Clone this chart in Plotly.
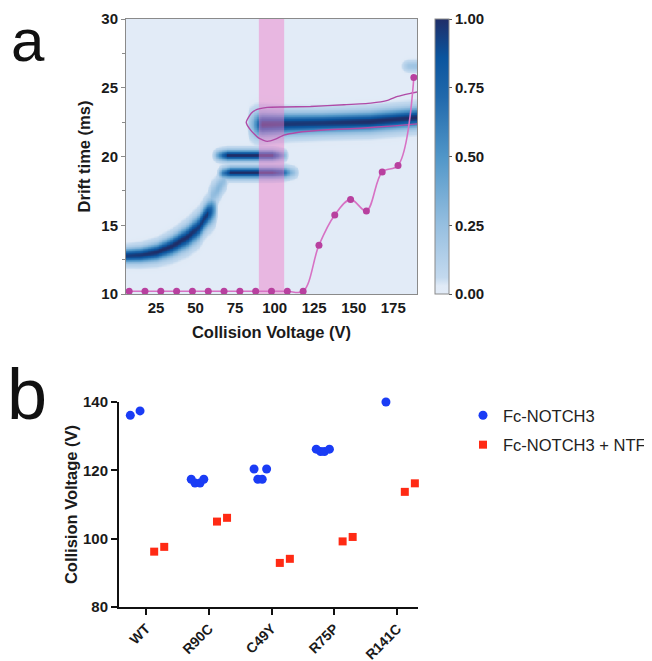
import numpy as np
import plotly.graph_objects as go

# ---------------- Panel a data ----------------
# ridge knots: collision voltage, drift centre, intensity, width
ridgeA_v = [6, 15, 25, 35, 45, 52, 57, 60, 64]
ridgeA_d = [12.8, 12.85, 13.05, 13.5, 14.2, 14.9, 15.8, 16.05, 16.3]
ridgeA_a = [0.95, 0.97, 1.0, 1.0, 1.0, 0.95, 0.97, 0.75, 0.0]
ridgeA_w = [0.3, 0.32, 0.36, 0.42, 0.48, 0.52, 0.52, 0.55, 0.55]

ridgeT_v = [56, 60, 64, 68, 71]
ridgeT_d = [16.6, 17.1, 17.7, 18.3, 18.6]
ridgeT_a = [0.0, 0.25, 0.3, 0.25, 0.0]
ridgeT_w = [0.55, 0.55, 0.5, 0.45, 0.45]

ridgeB_v = [63, 67, 72, 98, 104, 110, 116]
ridgeB_d = [18.75, 18.8, 18.85, 18.85, 18.85, 18.85, 18.85]
ridgeB_a = [0.0, 0.6, 1.0, 1.0, 0.85, 0.35, 0.0]
ridgeB_w = [0.24, 0.24, 0.24, 0.24, 0.24, 0.24, 0.24]

ridgeC_v = [60, 64, 70, 98, 103, 109]
ridgeC_d = [20.1, 20.1, 20.1, 20.1, 20.1, 20.1]
ridgeC_a = [0.0, 0.45, 1.0, 1.0, 0.6, 0.0]
ridgeC_w = [0.23, 0.23, 0.23, 0.23, 0.23, 0.23]

ridgeD_v = [82, 86, 92, 110, 130, 160, 175, 190]
ridgeD_d = [22.4, 22.35, 22.35, 22.4, 22.45, 22.55, 22.7, 22.85]
ridgeD_a = [0.0, 0.35, 1.0, 0.97, 0.97, 1.0, 1.0, 1.0]
ridgeD_w = [0.65, 0.6, 0.5, 0.44, 0.42, 0.42, 0.42, 0.42]

ridgeE_v = [179, 184, 190]
ridgeE_d = [26.6, 26.6, 26.6]
ridgeE_a = [0.0, 0.2, 0.22]
ridgeE_w = [0.25, 0.25, 0.25]

ridges = [
    (ridgeA_v, ridgeA_d, ridgeA_a, ridgeA_w),
    (ridgeT_v, ridgeT_d, ridgeT_a, ridgeT_w),
    (ridgeB_v, ridgeB_d, ridgeB_a, ridgeB_w),
    (ridgeC_v, ridgeC_d, ridgeC_a, ridgeC_w),
    (ridgeD_v, ridgeD_d, ridgeD_a, ridgeD_w),
    (ridgeE_v, ridgeE_d, ridgeE_a, ridgeE_w),
]

# contour outline around the high-voltage conformer
contour_v = [190.4, 186.2, 177.7, 171.4, 160.8, 143.9, 122.7, 105.8, 95.3, 88.9, 85.2,
             82.0, 84.7, 90.0, 95.3, 100.5, 105.8, 114.3, 133.3, 154.5, 175.6, 190.4]
contour_d = [24.7, 24.6, 24.37, 24.08, 23.88, 23.76, 23.64, 23.6, 23.57, 23.42, 23.15,
             22.5, 21.94, 21.33, 21.1, 21.26, 21.55, 21.75, 21.94, 22.06, 22.23, 22.38]

# unfolding curve (pink)
unfold_v = [8, 18, 28, 38, 48, 58, 68, 78, 88, 98, 108, 118, 128, 138, 148, 158, 168, 178, 188]
unfold_d = [10.2, 10.2, 10.2, 10.2, 10.2, 10.2, 10.2, 10.2, 10.2, 10.2, 10.2, 10.2,
            13.55, 15.75, 16.88, 16.04, 18.88, 19.35, 25.75]

# highlighted voltage window
band_range = [90, 106]

# ---------------- Panel b data ----------------
categories = ["WT", "R90C", "C49Y", "R75P", "R141C"]
notch_cat = [0, 0, 1, 1, 1, 1, 2, 2, 2, 2, 3, 3, 3, 3, 4]
notch_off = [-0.25, -0.095, -0.28, -0.22, -0.14, -0.08, -0.28, -0.08, -0.22, -0.15,
             -0.29, -0.22, -0.16, -0.08, -0.18]
notch_val = [136.1, 137.4, 117.4, 116.3, 116.3, 117.4, 120.4, 120.4, 117.4, 117.4,
             126.2, 125.5, 125.5, 126.2, 140.0]
ntf_cat = [0, 0, 1, 1, 2, 2, 3, 3, 4, 4]
ntf_off = [0.13, 0.29, 0.13, 0.29, 0.13, 0.29, 0.13, 0.29, 0.12, 0.28]
ntf_val = [96.2, 97.6, 105.0, 106.1, 92.9, 94.1, 99.2, 100.5, 113.7, 116.2]

# ---------------- build heat map grid ----------------
xs = np.arange(6, 190.01, 1.0)
ys = np.arange(10, 30.001, 0.05)
Y = ys[:, None]
Z = np.zeros((len(ys), len(xs)))
for rv, rd, ra, rw in ridges:
    d = np.interp(xs, rv, rd)[None, :]
    w = np.interp(xs, rv, rw)[None, :]
    right = ra[-1] if rv[-1] >= 190 else 0
    a = np.interp(xs, rv, ra, left=0, right=right)[None, :]
    prof = 0.8 * np.exp(-((Y - d) ** 2) / (2 * w ** 2)) + 0.2 * np.exp(-((Y - d) ** 2) / (2 * (1.7 * w) ** 2))
    Z = np.maximum(Z, a * prof)

colorscale = [
    [0.0, "#e2ebf7"],
    [0.03, "#e0eaf6"],
    [0.06, "#c3d9ee"],
    [0.25, "#96bfe0"],
    [0.5, "#5096c8"],
    [0.72, "#2068ab"],
    [0.86, "#0b559e"],
    [1.0, "#1f2e68"],
]

# the page body has an 8px margin: the figure is sized to the visible area
OFF = 8
W, H = 652 - OFF, 661 - OFF
def px_x(p): return (p - OFF) / W
def px_y(p): return (H - (p - OFF)) / H

fig = go.Figure()

TICKF = dict(family="Arial", size=15, color="#1a1a1a", weight="bold")
TICKF2 = dict(family="Arial", size=14, color="#1a1a1a", weight="bold")
TITLEF = dict(family="Arial", size=16.5, color="#1a1a1a", weight="bold")

fig.add_trace(go.Heatmap(
    x=xs, y=ys, z=Z, zmin=0, zmax=1, zsmooth="best",
    colorscale=colorscale, showscale=True, xaxis="x", yaxis="y",
    hoverinfo="skip",
    colorbar=dict(
        x=px_x(435), xanchor="left", xref="paper",
        y=px_y(19), yanchor="top", yref="paper",
        len=(294 - 19) / H, lenmode="fraction",
        thickness=14, thicknessmode="pixels", xpad=0, ypad=0,
        outlinecolor="#8a8a8a", outlinewidth=1,
        ticks="outside", ticklen=3, tickcolor="#555",
        tickvals=[0, 0.25, 0.5, 0.75, 1.0], tickformat=".2f",
        tickfont=TICKF,
    ),
))

# pink highlight band
fig.add_trace(go.Scatter(
    x=[band_range[0], band_range[1], band_range[1], band_range[0], band_range[0]],
    y=[10, 10, 30, 30, 10], mode="lines", fill="toself",
    fillcolor="rgba(238,125,200,0.47)", line=dict(width=0),
    xaxis="x", yaxis="y", showlegend=False, hoverinfo="skip",
))

fig.add_trace(go.Scatter(
    x=contour_v, y=contour_d, mode="lines",
    line=dict(color="#b04aa6", width=1.4, shape="spline", smoothing=0.5),
    xaxis="x", yaxis="y", showlegend=False, hoverinfo="skip",
))

fig.add_trace(go.Scatter(
    x=unfold_v, y=unfold_d, mode="lines+markers",
    line=dict(color="#d772c4", width=1.6, shape="spline", smoothing=1.0),
    marker=dict(color="#b8409f", size=7),
    xaxis="x", yaxis="y", showlegend=False, hoverinfo="skip",
))

# panel b
fig.add_trace(go.Scatter(
    x=[c + o for c, o in zip(notch_cat, notch_off)], y=notch_val,
    mode="markers", name="Fc-NOTCH3", legendgroup="g1",
    marker=dict(symbol="circle", color="#1a3cf5", size=9, line=dict(width=0)),
    xaxis="x2", yaxis="y2", cliponaxis=False,
))
fig.add_trace(go.Scatter(
    x=[c + o for c, o in zip(ntf_cat, ntf_off)], y=ntf_val,
    mode="markers", name="Fc-NOTCH3 + NTF", legendgroup="g2",
    marker=dict(symbol="square", color="#ff2a14", size=8, line=dict(width=0)),
    xaxis="x2", yaxis="y2", cliponaxis=False,
))

fig.update_layout(
    width=W, height=H,
    margin=dict(l=0, r=0, t=0, b=0, autoexpand=False),
    paper_bgcolor="white", plot_bgcolor="white",
    font=dict(family="Arial", color="#1a1a1a"),
    xaxis=dict(
        domain=[px_x(126), px_x(417)], range=[6, 190], anchor="y",
        tickvals=[25, 50, 75, 100, 125, 150, 175], ticks="",
        showline=True, mirror=True, linecolor="#8a8a8a", linewidth=1,
        showgrid=False, zeroline=False, tickfont=TICKF, automargin=False,
        title=dict(text="Collision Voltage (V)", font=TITLEF, standoff=11),
    ),
    yaxis=dict(
        domain=[px_y(294), px_y(19)], range=[10, 30], anchor="x",
        tickvals=[10, 15, 20, 25, 30], ticks="outside", ticklen=4,
        tickcolor="#8a8a8a",
        minor=dict(tickvals=[12.5, 17.5, 22.5, 27.5], ticks="outside", ticklen=3,
                   tickcolor="#8a8a8a", showgrid=False),
        showline=True, mirror=True, linecolor="#8a8a8a", linewidth=1,
        showgrid=False, zeroline=False, tickfont=TICKF, automargin=False,
        title=dict(text="Drift time (ms)", font=TITLEF, standoff=6),
    ),
    xaxis2=dict(
        domain=[px_x(119), px_x(418)], range=[-0.43, 4.33], anchor="y2",
        tickvals=[0, 1, 2, 3, 4], ticktext=categories, tickangle=-45,
        ticks="outside", ticklen=6, tickwidth=2, tickcolor="#111",
        showline=True, linecolor="#111", linewidth=2,
        showgrid=False, zeroline=False, tickfont=TICKF2, automargin=False,
    ),
    yaxis2=dict(
        domain=[px_y(607), px_y(402)], range=[80, 140], anchor="x2",
        tickvals=[80, 100, 120, 140], ticks="outside", ticklen=6, tickwidth=2,
        tickcolor="#111", showline=True, linecolor="#111", linewidth=2,
        showgrid=False, zeroline=False, tickfont=TICKF, automargin=False,
        title=dict(text="Collision Voltage (V)", font=TITLEF, standoff=1),
    ),
    legend=dict(
        x=px_x(463), y=px_y(398), xanchor="left", yanchor="top",
        font=dict(family="Arial", size=16.5, color="#222"),
        traceorder="grouped", tracegroupgap=5,
        bgcolor="rgba(0,0,0,0)",
    ),
    annotations=[
        dict(text="a", x=px_x(9), y=px_y(40), xref="paper", yref="paper",
             xanchor="left", yanchor="middle", showarrow=False,
             font=dict(family="Arial", size=60, color="#111")),
        dict(text="b", x=px_x(5), y=px_y(394), xref="paper", yref="paper",
             xanchor="left", yanchor="middle", showarrow=False,
             font=dict(family="Arial", size=72, color="#111")),
    ],
)

fig.write_html("out.html")
